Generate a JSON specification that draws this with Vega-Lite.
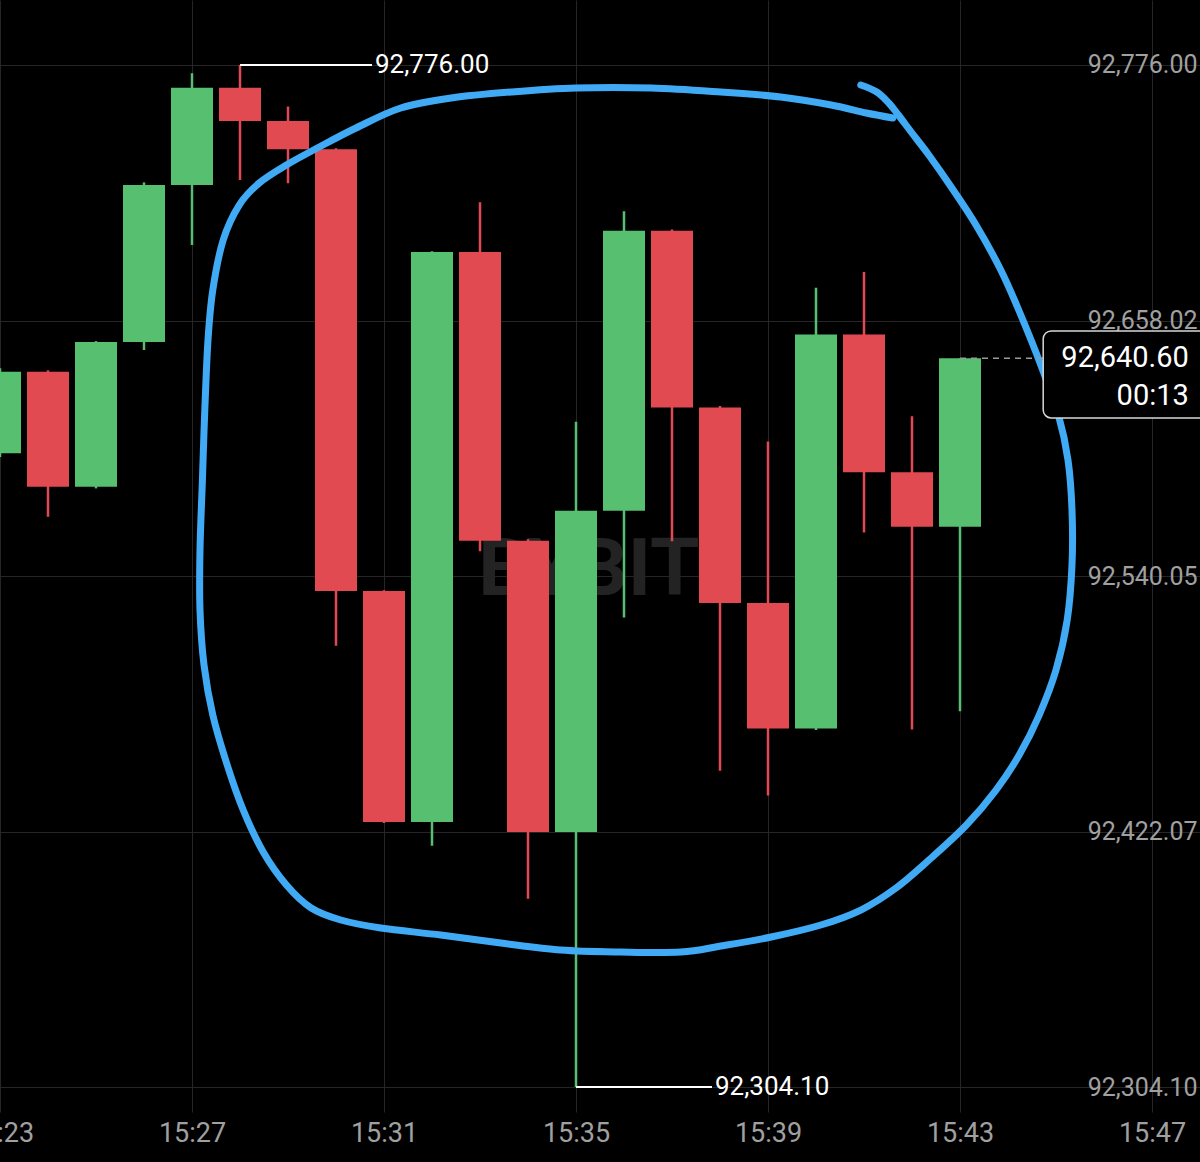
{
  "$schema": "https://vega.github.io/schema/vega-lite/v6.json",
  "width": 1200,
  "height": 1112,
  "autosize": {"type": "none"},
  "padding": {"left": 0, "top": 0, "right": 0, "bottom": 50},
  "background": "#000000",
  "config": {"view": {"stroke": null}, "font": "Roboto", "scale": {"continuousPadding": 0}},
  "datasets": {
    "wm": [{"t": "2025-01-01T15:35:16", "p": 92542.4, "label": "BYBIT"}],
    "candles": [
      {"t": "2025-01-01T15:23:00", "open": 92596.7, "high": 92636.0, "low": 92595.0, "close": 92634.4},
      {"t": "2025-01-01T15:24:00", "open": 92634.4, "high": 92635.0, "low": 92567.4, "close": 92581.3},
      {"t": "2025-01-01T15:25:00", "open": 92581.3, "high": 92648.5, "low": 92580.5, "close": 92648.1},
      {"t": "2025-01-01T15:26:00", "open": 92648.1, "high": 92721.8, "low": 92644.4, "close": 92720.6},
      {"t": "2025-01-01T15:27:00", "open": 92720.6, "high": 92772.2, "low": 92692.9, "close": 92765.5},
      {"t": "2025-01-01T15:28:00", "open": 92765.5, "high": 92776.0, "low": 92722.9, "close": 92750.1},
      {"t": "2025-01-01T15:29:00", "open": 92750.1, "high": 92756.8, "low": 92721.4, "close": 92737.1},
      {"t": "2025-01-01T15:30:00", "open": 92737.1, "high": 92737.5, "low": 92507.9, "close": 92533.1},
      {"t": "2025-01-01T15:31:00", "open": 92533.1, "high": 92533.5, "low": 92426.0, "close": 92426.5},
      {"t": "2025-01-01T15:32:00", "open": 92426.5, "high": 92690.0, "low": 92415.5, "close": 92689.6},
      {"t": "2025-01-01T15:33:00", "open": 92689.6, "high": 92712.6, "low": 92551.5, "close": 92556.3},
      {"t": "2025-01-01T15:34:00", "open": 92556.3, "high": 92557.0, "low": 92391.0, "close": 92421.9},
      {"t": "2025-01-01T15:35:00", "open": 92421.9, "high": 92611.3, "low": 92304.1, "close": 92570.2},
      {"t": "2025-01-01T15:36:00", "open": 92570.2, "high": 92708.5, "low": 92520.9, "close": 92699.5},
      {"t": "2025-01-01T15:37:00", "open": 92699.5, "high": 92700.0, "low": 92556.1, "close": 92617.9},
      {"t": "2025-01-01T15:38:00", "open": 92617.9, "high": 92618.5, "low": 92450.1, "close": 92527.6},
      {"t": "2025-01-01T15:39:00", "open": 92527.6, "high": 92602.1, "low": 92438.7, "close": 92469.6},
      {"t": "2025-01-01T15:40:00", "open": 92469.6, "high": 92673.1, "low": 92469.0, "close": 92651.6},
      {"t": "2025-01-01T15:41:00", "open": 92651.6, "high": 92680.4, "low": 92560.1, "close": 92587.9},
      {"t": "2025-01-01T15:42:00", "open": 92587.9, "high": 92613.8, "low": 92469.2, "close": 92562.8},
      {"t": "2025-01-01T15:43:00", "open": 92562.8, "high": 92640.6, "low": 92477.6, "close": 92640.6}
    ],
    "loop": [
      {"i": 1, "t": "2025-01-01T15:40:56", "p": 92766.76},
      {"i": 2, "t": "2025-01-01T15:41:16", "p": 92763.53},
      {"i": 3, "t": "2025-01-01T15:41:31", "p": 92758.45},
      {"i": 4, "t": "2025-01-01T15:41:43", "p": 92752.91},
      {"i": 5, "t": "2025-01-01T15:41:59", "p": 92745.06},
      {"i": 6, "t": "2025-01-01T15:42:21", "p": 92734.44},
      {"i": 7, "t": "2025-01-01T15:42:49", "p": 92719.66},
      {"i": 8, "t": "2025-01-01T15:43:20", "p": 92702.12},
      {"i": 9, "t": "2025-01-01T15:43:51", "p": 92681.34},
      {"i": 10, "t": "2025-01-01T15:44:16", "p": 92660.56},
      {"i": 11, "t": "2025-01-01T15:44:41", "p": 92637.47},
      {"i": 12, "t": "2025-01-01T15:45:03", "p": 92614.39},
      {"i": 13, "t": "2025-01-01T15:45:15", "p": 92593.61},
      {"i": 14, "t": "2025-01-01T15:45:20", "p": 92570.52},
      {"i": 15, "t": "2025-01-01T15:45:20", "p": 92545.13},
      {"i": 16, "t": "2025-01-01T15:45:14", "p": 92519.73},
      {"i": 17, "t": "2025-01-01T15:45:00", "p": 92496.64},
      {"i": 18, "t": "2025-01-01T15:44:39", "p": 92475.86},
      {"i": 19, "t": "2025-01-01T15:44:14", "p": 92457.39},
      {"i": 20, "t": "2025-01-01T15:43:45", "p": 92441.23},
      {"i": 21, "t": "2025-01-01T15:43:08", "p": 92425.07},
      {"i": 22, "t": "2025-01-01T15:42:24", "p": 92409.84},
      {"i": 23, "t": "2025-01-01T15:41:40", "p": 92395.98},
      {"i": 24, "t": "2025-01-01T15:40:56", "p": 92385.82},
      {"i": 25, "t": "2025-01-01T15:40:06", "p": 92378.90},
      {"i": 26, "t": "2025-01-01T15:39:04", "p": 92373.36},
      {"i": 27, "t": "2025-01-01T15:38:01", "p": 92369.20},
      {"i": 28, "t": "2025-01-01T15:37:11", "p": 92366.43},
      {"i": 29, "t": "2025-01-01T15:35:56", "p": 92366.43},
      {"i": 30, "t": "2025-01-01T15:34:41", "p": 92367.36},
      {"i": 31, "t": "2025-01-01T15:33:26", "p": 92370.59},
      {"i": 32, "t": "2025-01-01T15:32:11", "p": 92374.28},
      {"i": 33, "t": "2025-01-01T15:30:56", "p": 92377.51},
      {"i": 34, "t": "2025-01-01T15:30:06", "p": 92381.21},
      {"i": 35, "t": "2025-01-01T15:29:29", "p": 92386.75},
      {"i": 36, "t": "2025-01-01T15:28:58", "p": 92397.37},
      {"i": 37, "t": "2025-01-01T15:28:29", "p": 92412.61},
      {"i": 38, "t": "2025-01-01T15:28:04", "p": 92432.00},
      {"i": 39, "t": "2025-01-01T15:27:44", "p": 92452.78},
      {"i": 40, "t": "2025-01-01T15:27:26", "p": 92475.86},
      {"i": 41, "t": "2025-01-01T15:27:15", "p": 92498.95},
      {"i": 42, "t": "2025-01-01T15:27:10", "p": 92524.35},
      {"i": 43, "t": "2025-01-01T15:27:10", "p": 92552.05},
      {"i": 44, "t": "2025-01-01T15:27:13", "p": 92584.37},
      {"i": 45, "t": "2025-01-01T15:27:16", "p": 92616.70},
      {"i": 46, "t": "2025-01-01T15:27:20", "p": 92649.02},
      {"i": 47, "t": "2025-01-01T15:27:26", "p": 92672.10},
      {"i": 48, "t": "2025-01-01T15:27:39", "p": 92695.19},
      {"i": 49, "t": "2025-01-01T15:27:59", "p": 92711.35},
      {"i": 50, "t": "2025-01-01T15:28:24", "p": 92721.51},
      {"i": 51, "t": "2025-01-01T15:28:58", "p": 92729.82},
      {"i": 52, "t": "2025-01-01T15:29:39", "p": 92738.13},
      {"i": 53, "t": "2025-01-01T15:30:25", "p": 92746.91},
      {"i": 54, "t": "2025-01-01T15:31:21", "p": 92756.14},
      {"i": 55, "t": "2025-01-01T15:32:24", "p": 92760.76},
      {"i": 56, "t": "2025-01-01T15:33:39", "p": 92763.53},
      {"i": 57, "t": "2025-01-01T15:35:00", "p": 92765.38},
      {"i": 58, "t": "2025-01-01T15:36:34", "p": 92765.38},
      {"i": 59, "t": "2025-01-01T15:38:01", "p": 92763.53},
      {"i": 60, "t": "2025-01-01T15:39:16", "p": 92761.22},
      {"i": 61, "t": "2025-01-01T15:40:19", "p": 92757.53},
      {"i": 62, "t": "2025-01-01T15:41:03", "p": 92753.83},
      {"i": 63, "t": "2025-01-01T15:41:36", "p": 92751.52}
    ],
    "hl": [
      {"t1": "2025-01-01T15:28:00", "t2": "2025-01-01T15:30:45", "p": 92776.00, "label": "92,776.00"},
      {"t1": "2025-01-01T15:35:00", "t2": "2025-01-01T15:37:50", "p": 92304.10, "label": "92,304.10"}
    ],
    "last": [
      {"t1": "2025-01-01T15:43:00", "t2": "2025-01-01T15:44:44", "tEnd": "2025-01-01T15:49:00", "tText": "2025-01-01T15:47:46", "p": 92640.60, "top": 92653.18, "bottom": 92613.01, "pCount": 92623.2, "label": "92,640.60", "countdown": "00:13"}
    ]
  },
  "layer": [
    {
      "data": {"name": "wm"},
      "mark": {"type": "text", "font": "Roboto", "fontWeight": "bold", "fontSize": 80, "color": "#232323", "align": "center", "baseline": "middle"},
      "encoding": {
        "x": {
          "field": "t", "type": "temporal", "title": null,
          "scale": {"domain": [{"year": 2025, "month": 1, "date": 1, "hours": 15, "minutes": 23}, {"year": 2025, "month": 1, "date": 1, "hours": 15, "minutes": 48}], "nice": false, "padding": 0},
          "axis": {
            "orient": "bottom",
            "values": [
              {"year": 2025, "month": 1, "date": 1, "hours": 15, "minutes": 23},
              {"year": 2025, "month": 1, "date": 1, "hours": 15, "minutes": 27},
              {"year": 2025, "month": 1, "date": 1, "hours": 15, "minutes": 31},
              {"year": 2025, "month": 1, "date": 1, "hours": 15, "minutes": 35},
              {"year": 2025, "month": 1, "date": 1, "hours": 15, "minutes": 39},
              {"year": 2025, "month": 1, "date": 1, "hours": 15, "minutes": 43},
              {"year": 2025, "month": 1, "date": 1, "hours": 15, "minutes": 47}
            ],
            "format": "%H:%M",
            "domain": false, "ticks": false, "tickSize": 0,
            "labelPadding": 8, "labelFontSize": 27, "labelFont": "Roboto", "labelColor": "#a0a0a0",
            "labelFlush": false, "labelOverlap": false, "labelBound": false,
            "grid": true, "gridColor": "#262626", "gridWidth": 1
          }
        },
        "y": {
          "field": "p", "type": "quantitative", "title": null,
          "scale": {"domain": [92292.56, 92806.01], "nice": false, "zero": false, "padding": 0},
          "axis": {
            "orient": "right",
            "values": [92304.10, 92422.07, 92540.05, 92658.02, 92776.00],
            "format": ",.2f",
            "domain": false, "ticks": false, "tickSize": 0,
            "labelPadding": -3, "labelAlign": "right", "labelBaseline": "middle",
            "labelFontSize": 25, "labelFont": "Roboto", "labelColor": "#a0a0a0",
            "labelOverlap": false, "labelBound": false,
            "grid": true, "gridColor": "#262626", "gridWidth": 1
          }
        },
        "text": {"field": "label"}
      }
    },
    {
      "data": {"name": "candles"},
      "mark": {"type": "rule", "strokeWidth": 2.5},
      "encoding": {
        "x": {"field": "t", "type": "temporal", "title": null, "scale": {"domain": [{"year": 2025, "month": 1, "date": 1, "hours": 15, "minutes": 23}, {"year": 2025, "month": 1, "date": 1, "hours": 15, "minutes": 48}], "nice": false, "padding": 0}},
        "y": {"field": "low", "type": "quantitative", "title": null, "scale": {"domain": [92292.56, 92806.01], "nice": false, "zero": false, "padding": 0}},
        "y2": {"field": "high"},
        "color": {"condition": {"test": "datum.close >= datum.open", "value": "#57BF70"}, "value": "#E24A52"}
      }
    },
    {
      "data": {"name": "candles"},
      "mark": {"type": "bar", "size": 42},
      "encoding": {
        "x": {"field": "t", "type": "temporal", "title": null, "scale": {"domain": [{"year": 2025, "month": 1, "date": 1, "hours": 15, "minutes": 23}, {"year": 2025, "month": 1, "date": 1, "hours": 15, "minutes": 48}], "nice": false, "padding": 0}},
        "y": {"field": "open", "type": "quantitative", "title": null, "scale": {"domain": [92292.56, 92806.01], "nice": false, "zero": false, "padding": 0}},
        "y2": {"field": "close"},
        "color": {"condition": {"test": "datum.close >= datum.open", "value": "#57BF70"}, "value": "#E24A52"}
      }
    },
    {
      "data": {"name": "loop"},
      "mark": {"type": "line", "color": "#40AAF5", "strokeWidth": 7, "strokeCap": "round", "strokeJoin": "round", "interpolate": "cardinal"},
      "encoding": {
        "x": {"field": "t", "type": "temporal", "title": null, "scale": {"domain": [{"year": 2025, "month": 1, "date": 1, "hours": 15, "minutes": 23}, {"year": 2025, "month": 1, "date": 1, "hours": 15, "minutes": 48}], "nice": false, "padding": 0}},
        "y": {"field": "p", "type": "quantitative", "title": null, "scale": {"domain": [92292.56, 92806.01], "nice": false, "zero": false, "padding": 0}},
        "order": {"field": "i", "type": "quantitative"}
      }
    },
    {
      "data": {"name": "hl"},
      "mark": {"type": "rule", "color": "#ffffff", "strokeWidth": 2},
      "encoding": {
        "x": {"field": "t1", "type": "temporal", "title": null, "scale": {"domain": [{"year": 2025, "month": 1, "date": 1, "hours": 15, "minutes": 23}, {"year": 2025, "month": 1, "date": 1, "hours": 15, "minutes": 48}], "nice": false, "padding": 0}},
        "x2": {"field": "t2"},
        "y": {"field": "p", "type": "quantitative", "title": null, "scale": {"domain": [92292.56, 92806.01], "nice": false, "zero": false, "padding": 0}}
      }
    },
    {
      "data": {"name": "hl"},
      "mark": {"type": "text", "color": "#ffffff", "fontSize": 26, "font": "Roboto", "align": "left", "baseline": "middle", "dx": 3},
      "encoding": {
        "x": {"field": "t2", "type": "temporal", "title": null, "scale": {"domain": [{"year": 2025, "month": 1, "date": 1, "hours": 15, "minutes": 23}, {"year": 2025, "month": 1, "date": 1, "hours": 15, "minutes": 48}], "nice": false, "padding": 0}},
        "y": {"field": "p", "type": "quantitative", "title": null, "scale": {"domain": [92292.56, 92806.01], "nice": false, "zero": false, "padding": 0}},
        "text": {"field": "label"}
      }
    },
    {
      "data": {"name": "last"},
      "mark": {"type": "rule", "color": "#9a9a9a", "strokeWidth": 1.5, "strokeDash": [6, 5]},
      "encoding": {
        "x": {"field": "t1", "type": "temporal", "title": null, "scale": {"domain": [{"year": 2025, "month": 1, "date": 1, "hours": 15, "minutes": 23}, {"year": 2025, "month": 1, "date": 1, "hours": 15, "minutes": 48}], "nice": false, "padding": 0}},
        "x2": {"field": "t2"},
        "y": {"field": "p", "type": "quantitative", "title": null, "scale": {"domain": [92292.56, 92806.01], "nice": false, "zero": false, "padding": 0}}
      }
    },
    {
      "data": {"name": "last"},
      "mark": {"type": "rect", "fill": "#000000", "stroke": "#d8d8d8", "strokeWidth": 1.5, "cornerRadius": 8},
      "encoding": {
        "x": {"field": "t2", "type": "temporal", "title": null, "scale": {"domain": [{"year": 2025, "month": 1, "date": 1, "hours": 15, "minutes": 23}, {"year": 2025, "month": 1, "date": 1, "hours": 15, "minutes": 48}], "nice": false, "padding": 0}},
        "x2": {"field": "tEnd"},
        "y": {"field": "top", "type": "quantitative", "title": null, "scale": {"domain": [92292.56, 92806.01], "nice": false, "zero": false, "padding": 0}},
        "y2": {"field": "bottom"}
      }
    },
    {
      "data": {"name": "last"},
      "mark": {"type": "text", "color": "#ffffff", "fontSize": 29, "font": "Roboto", "align": "right", "baseline": "middle"},
      "encoding": {
        "x": {"field": "tText", "type": "temporal", "title": null, "scale": {"domain": [{"year": 2025, "month": 1, "date": 1, "hours": 15, "minutes": 23}, {"year": 2025, "month": 1, "date": 1, "hours": 15, "minutes": 48}], "nice": false, "padding": 0}},
        "y": {"field": "p", "type": "quantitative", "title": null, "scale": {"domain": [92292.56, 92806.01], "nice": false, "zero": false, "padding": 0}},
        "text": {"field": "label"}
      }
    },
    {
      "data": {"name": "last"},
      "mark": {"type": "text", "color": "#ffffff", "fontSize": 29, "font": "Roboto", "align": "right", "baseline": "middle"},
      "encoding": {
        "x": {"field": "tText", "type": "temporal", "title": null, "scale": {"domain": [{"year": 2025, "month": 1, "date": 1, "hours": 15, "minutes": 23}, {"year": 2025, "month": 1, "date": 1, "hours": 15, "minutes": 48}], "nice": false, "padding": 0}},
        "y": {"field": "pCount", "type": "quantitative", "title": null, "scale": {"domain": [92292.56, 92806.01], "nice": false, "zero": false, "padding": 0}},
        "text": {"field": "countdown"}
      }
    }
  ]
}
